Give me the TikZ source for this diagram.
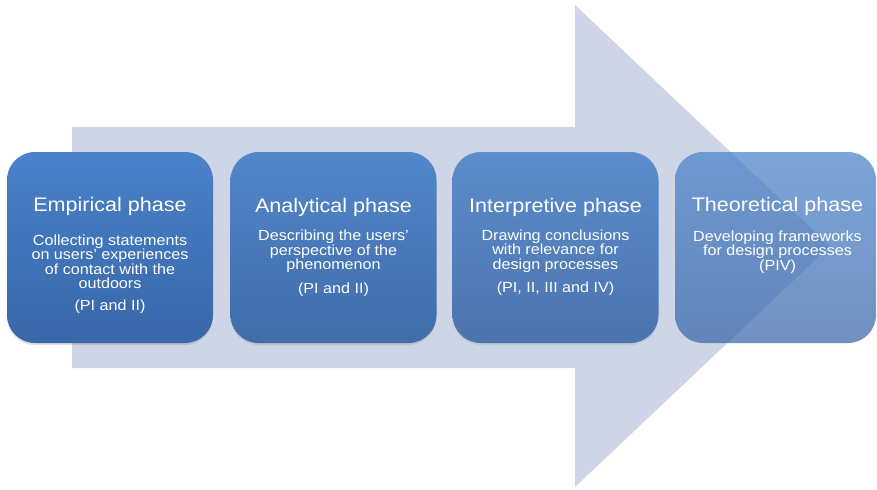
\documentclass[tikz,border=0pt]{standalone}
\usepackage{fontspec}
\setmainfont{Liberation Sans}[FakeStretch=1.1]
\usetikzlibrary{shadows}
\definecolor{arrowc}{RGB}{205,213,230}
\definecolor{boxtop}{RGB}{74,130,202}
\definecolor{boxbot}{RGB}{56,102,168}
\begin{document}
\begin{tikzpicture}[x=0.75pt,y=-0.75pt,
  phasebox/.style={rounded corners=21pt, top color=boxtop, bottom color=boxbot, draw=none,
    minimum width=154.5pt, minimum height=143.25pt, inner sep=0},
  ttl/.style={text=white, font=\fontsize{14.7}{17}\selectfont, inner sep=0, anchor=base},
  bdy/.style={text=white, font=\fontsize{11}{10.9}\selectfont, align=center, inner sep=0, anchor=north}]
\useasboundingbox (0,0) rectangle (877,489);
\fill[arrowc] (72,127) -- (575,127) -- (575,5) -- (830,246) -- (575,487) -- (575,368) -- (72,368) -- cycle;
\node[phasebox, drop shadow={opacity=0.25, shadow xshift=0pt, shadow yshift=-1.5pt}] (p1) at (110,247.5) {};
\node[phasebox, fill opacity=0.93, drop shadow={opacity=0.2, shadow xshift=0pt, shadow yshift=-1.5pt}] (p2) at (333.5,247.5) {};
\node[phasebox, fill opacity=0.85, drop shadow={opacity=0.15, shadow xshift=0pt, shadow yshift=-1.5pt}] (p3) at (555.5,247.5) {};
\node[phasebox, fill opacity=0.72, minimum width=150.75pt] (p4) at (775.5,247.5) {};
\node[ttl] (t1) at (110,211) {Empirical phase};
\node[bdy] (b1) at (110,234.5) {Collecting statements\\on users’ experiences\\of contact with the\\outdoors\\[5.3pt](PI and II)};
\node[ttl] (t2) at (333.5,212.5) {Analytical phase};
\node[bdy] (b2) at (333.5,230) {Describing the users’\\perspective of the\\phenomenon\\[6.5pt](PI and II)};
\node[ttl] (t3) at (555.5,212.5) {Interpretive phase};
\node[bdy] (b3) at (555.5,229.5) {Drawing conclusions\\with relevance for\\design processes\\[6.5pt](PI, II, III and IV)};
\node[ttl] (t4) at (777.5,211.5) {Theoretical phase};
\node[bdy] (b4) at (777.5,230.5) {Developing frameworks\\for design processes\\(PIV)};
\end{tikzpicture}
\end{document}
